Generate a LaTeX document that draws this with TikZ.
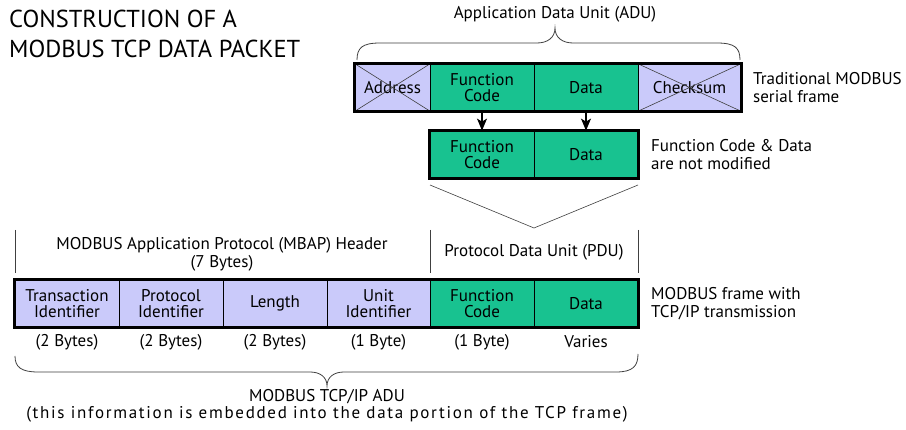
\documentclass[tikz,border=0pt]{standalone}
\usepackage{fontspec}
\setmainfont{PT Sans}
\usetikzlibrary{arrows.meta}
\definecolor{lav}{RGB}{202,202,250}
\definecolor{grn}{RGB}{24,194,144}
\tikzset{
  cell/.style={draw=black, line width=0.8pt, inner sep=0pt, align=center, font=\fontsize{17}{16.5}\selectfont, minimum height=47pt},
  hdr/.style={cell, fill=lav},
  pdu/.style={cell, fill=grn},
  frame/.style={draw=black, line width=3pt},
  thinln/.style={draw=black!75, line width=0.6pt},
  lbl/.style={inner sep=0pt, align=center, font=\fontsize{17}{18}\selectfont},
  side/.style={inner sep=0pt, align=left, anchor=west, font=\fontsize{17}{18}\selectfont},
  arr/.style={-{Stealth[length=12pt,width=10pt,inset=3pt]}, line width=1.2pt}
}
\begin{document}
\begin{tikzpicture}[x=1pt,y=-1pt]
\useasboundingbox[fill=white] (0,0) rectangle (906,430);
% title
\node[inner sep=0pt, anchor=north west, align=left, font=\fontsize{24.5}{30}\selectfont] (title) at (9,10) {CONSTRUCTION OF A\\MODBUS TCP DATA PACKET};

% top frame
\node[hdr, minimum width=75pt] (ta) at (392.5,87.5) {Address};
\node[pdu, minimum width=104pt] (tfc) at (482,87.5) {Function\\Code};
\node[pdu, minimum width=104pt] (td) at (586,87.5) {Data};
\node[hdr, minimum width=103pt] (tcs) at (689.5,87.5) {Checksum};
\draw[thinln] (ta.north west) -- (ta.south east) (ta.south west) -- (ta.north east);
\draw[thinln] (tcs.north west) -- (tcs.south east) (tcs.south west) -- (tcs.north east);
\draw[frame] (ta.north west) rectangle (tcs.south east);

% top brace
\coordinate (tbl) at (357,60);
\coordinate (tbr) at (740,60);
\coordinate (tbt) at (555,28);
\draw[thinln, line width=0.8pt] (tbl) .. controls (357,48) and (362,43) .. (380,43) -- (537,43) .. controls (547,43) and (555,38) .. (tbt) .. controls (555,38) and (563,43) .. (573,43) -- (717,43) .. controls (735,43) and (740,48) .. (tbr);
\node[lbl] (adu) at (555,14) {Application Data Unit (ADU)};
\node[side] (trad) at (753,87.5) {Traditional MODBUS\\serial frame};

% middle frame
\node[pdu, minimum width=104pt] (mfc) at (482,154.5) {Function\\Code};
\node[pdu, minimum width=104pt] (md) at (586,154.5) {Data};
\draw[frame] (mfc.north west) rectangle (md.south east);
\draw[arr] (tfc.south) -- (mfc.north);
\draw[arr] (td.south) -- (md.north);
\node[side] (notmod) at (651,155) {Function Code \& Data\\are not modified};

% V lines
\coordinate (vl) at (430,185);
\coordinate (vm) at (534,228);
\coordinate (vr) at (638,185);
\draw[thinln] (vl) -- (vm) -- (vr);

% section markers
\coordinate (s1a) at (15,230); \coordinate (s1b) at (15,273);
\coordinate (s2a) at (430,230); \coordinate (s2b) at (430,273);
\coordinate (s3a) at (638,230); \coordinate (s3b) at (638,273);
\draw[thinln] (s1a) -- (s1b) (s2a) -- (s2b) (s3a) -- (s3b);
\node[lbl] (mbap) at (222,254) {MODBUS Application Protocol (MBAP) Header\\(7 Bytes)};
\node[lbl] (pdul) at (534,252) {Protocol Data Unit (PDU)};

% bottom frame
\node[hdr, minimum width=104pt] (bt) at (67,303.5) {Transaction\\Identifier};
\node[hdr, minimum width=104pt] (bp) at (171,303.5) {Protocol\\Identifier};
\node[hdr, minimum width=104pt] (bl) at (275,303.5) {Length};
\node[hdr, minimum width=103pt] (bu) at (378.5,303.5) {Unit\\Identifier};
\node[pdu, minimum width=104pt] (bfc) at (482,303.5) {Function\\Code};
\node[pdu, minimum width=104pt] (bd) at (586,303.5) {Data};
\draw[frame] (bt.north west) rectangle (bd.south east);
\node[side] (tcpf) at (651,304) {MODBUS frame with\\TCP/IP transmission};

% byte sizes
\node[lbl] (z1) at (67,342) {(2 Bytes)};
\node[lbl] (z2) at (171,342) {(2 Bytes)};
\node[lbl] (z3) at (275,342) {(2 Bytes)};
\node[lbl] (z4) at (378.5,342) {(1 Byte)};
\node[lbl] (z5) at (482,342) {(1 Byte)};
\node[lbl] (z6) at (586,342) {Varies};

% bottom brace
\coordinate (bbl) at (15,356);
\coordinate (bbr) at (638,354);
\coordinate (bbt) at (327,386);
\draw[thinln, line width=0.8pt] (bbl) .. controls (15,367) and (21,372) .. (38,372) -- (310,372) .. controls (320,372) and (327,377) .. (bbt) .. controls (327,377) and (334,372) .. (344,372) -- (616,372) .. controls (633,372) and (638,366) .. (bbr);
\node[lbl, font=\fontsize{17}{17}\selectfont] (tcpadu) at (327,406) {MODBUS TCP/IP ADU\\\addfontfeature{LetterSpace=10}(this information is embedded into the data portion of the TCP frame)};
\end{tikzpicture}
\end{document}
